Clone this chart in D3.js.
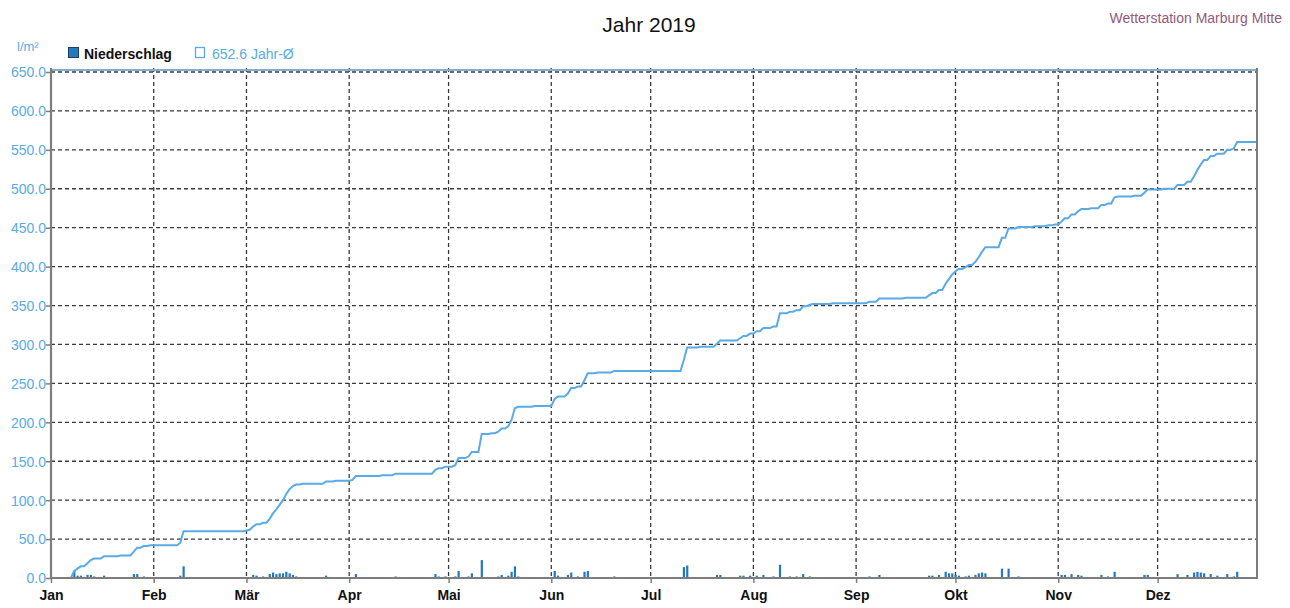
<!DOCTYPE html>
<html><head><meta charset="utf-8">
<script src="https://cdn.jsdelivr.net/npm/d3@7"></script>
<style>
html,body{margin:0;padding:0;background:#fff;}
svg{display:block;font-family:"Liberation Sans",Arial,sans-serif;}
</style></head>
<body>
<svg id="chart" width="1290" height="608"></svg>
<script>
// ---- data ----
const title = "Jahr 2019";
const stationName = "Wetterstation Marburg Mitte";
const unitLabel = "l/m²";
const seriesBarName = "Niederschlag";
const yearAverage = 652.6;
const averageLabel = "652.6 Jahr-Ø";
const monthLabels = ["Jan","Feb","Mär","Apr","Mai","Jun","Jul","Aug","Sep","Okt","Nov","Dez"];
const yTicks = [0,50,100,150,200,250,300,350,400,450,500,550,600,650];
// day of year (0 = 1 Jan) and daily precipitation in l/m²
const rainDay = [7,8,9,11,12,13,16,21,25,26,28,30,
  39,40,
  59,60,61,62,64,66,67,68,69,70,71,72,73,74,76,83,86,
  91,92,100,104,116,117,119,
  122,123,126,127,130,133,135,136,138,139,140,141,146,
  152,153,156,157,159,161,162,165,170,
  191,192,196,201,202,208,209,211,
  213,215,218,220,223,225,227,229,230,236,
  247,250,258,
  265,266,268,270,271,272,273,274,276,277,279,280,281,282,287,289,292,297,301,303,
  305,306,308,310,311,314,317,319,321,322,327,330,331,
  336,340,343,345,346,347,348,350,352,355,357,358];
const rainMm = [9,3,3,4,4,2,3,1,5,5,2,1,
  3,15,
  1,1,4,3,2,5,7,5,6,6,8,6,4,2,1,3,1,
  1,5,1,2,5,2,2,
  2,9,2,6,23,1,2,4,3,8,15,2,1,
  9,3,4,7,2,8,9,1,2,
  14,16,1,4,4,3,3,3,
  3,4,2,17,2,2,5,2,1,1,
  2,4,1,
  3,3,4,8,6,6,4,3,2,3,4,6,7,6,12,12,2,1,1,1,
  4,4,5,4,3,1,4,2,8,1,1,4,4,
  1,5,4,7,8,7,6,5,3,5,2,8];

// ---- layout ----
const svg = d3.select("#chart");
const pLeft = 51, pRight = 1257, pTop = 68, pBottom = 578;
const start = new Date(2019,0,1), end = new Date(2019,11,31);
const x = d3.scaleTime().domain([start,end]).range([pLeft,pRight]);
const y = d3.scaleLinear().domain([0,650]).range([pBottom,72]);
const dayDate = d => d3.timeDay.offset(start, d);

// daily series and cumulative sum
const nDays = d3.timeDay.count(start,end)+1;
const daily = new Array(nDays).fill(0);
rainDay.forEach((d,i)=>{ daily[d] += rainMm[i]; });
const cum = d3.cumsum(daily);
const cumData = Array.from(cum, (v,i)=>({date:dayDate(i), v}));
const bars = rainDay.map((d,i)=>({date:dayDate(d), v:rainMm[i]}));

const blue = "#5aaae6", barBlue = "#2478bf", gridCol = "#3a3a3a", axisCol = "#7d7d7d";

// grid
const months = d3.range(12).map(m=>new Date(2019,m,1));
svg.append("g").selectAll("line").data(yTicks.filter(t=>t>0)).join("line")
  .attr("x1",pLeft).attr("x2",pRight).attr("y1",d=>y(d)).attr("y2",d=>y(d))
  .attr("stroke",gridCol).attr("stroke-width",1.3).attr("stroke-dasharray","4,3");
svg.append("g").selectAll("line").data(months.slice(1)).join("line")
  .attr("x1",d=>x(d)).attr("x2",d=>x(d)).attr("y1",pTop).attr("y2",pBottom)
  .attr("stroke",gridCol).attr("stroke-width",1.3).attr("stroke-dasharray","4,3");

// average line (top)
svg.append("line").attr("x1",pLeft).attr("x2",pRight)
  .attr("y1",y(yearAverage)).attr("y2",y(yearAverage))
  .attr("stroke","#7fb0cc").attr("stroke-width",2);

// bars
svg.append("g").selectAll("rect").data(bars).join("rect")
  .attr("x",d=>x(d.date)-1).attr("width",2.2)
  .attr("y",d=>y(d.v)).attr("height",d=>pBottom-y(d.v))
  .attr("fill",barBlue);

// cumulative line
svg.append("path").datum(cumData)
  .attr("fill","none").attr("stroke",blue).attr("stroke-width",2)
  .attr("d", d3.line().x(d=>x(d.date)).y(d=>y(d.v)));

// frame
svg.append("line").attr("x1",pRight).attr("x2",pRight).attr("y1",pTop).attr("y2",pBottom)
  .attr("stroke",axisCol).attr("stroke-width",2);

// y axis
const yAxis = svg.append("g").attr("transform",`translate(${pLeft},0)`)
  .call(d3.axisLeft(y).tickValues(yTicks).tickFormat(d3.format(".1f")).tickSize(5).tickSizeOuter(0));
yAxis.select(".domain").attr("stroke",axisCol).attr("stroke-width",2.2)
  .attr("d",`M0,${pTop}V${pBottom+1}`);
yAxis.selectAll(".tick line").attr("stroke",axisCol).attr("stroke-width",1.5);
yAxis.selectAll(".tick text").attr("fill",blue).attr("font-size",14)
  .attr("font-family","'Liberation Sans',Arial,sans-serif").attr("x",-5).attr("dy","0.35em");

// x axis
const xAxis = svg.append("g").attr("transform",`translate(0,${pBottom})`)
  .call(d3.axisBottom(x).tickValues(months).tickFormat((d,i)=>monthLabels[i]).tickSize(5).tickSizeOuter(0));
xAxis.select(".domain").attr("stroke",axisCol).attr("stroke-width",2.2)
  .attr("d",`M${pLeft-1},0H${pRight+1}`);
xAxis.selectAll(".tick line").attr("stroke",axisCol).attr("stroke-width",1.5);
xAxis.selectAll(".tick text").attr("fill","#111").attr("font-size",14).attr("font-weight","bold")
  .attr("font-family","'Liberation Sans',Arial,sans-serif").attr("y",12);

// titles
svg.append("text").attr("x",649).attr("y",32).attr("text-anchor","middle")
  .attr("font-size",21).attr("fill","#111").text(title);
svg.append("text").attr("x",1282).attr("y",23).attr("text-anchor","end")
  .attr("font-size",14).attr("fill","#94587d").text(stationName);
svg.append("text").attr("x",17).attr("y",51)
  .attr("font-size",13).attr("fill",blue).text(unitLabel);

// legend
svg.append("rect").attr("x",68.5).attr("y",47.5).attr("width",10).attr("height",10)
  .attr("fill",barBlue).attr("stroke","#1a3f66").attr("stroke-width",1);
svg.append("text").attr("x",84).attr("y",58.5).attr("font-size",14).attr("font-weight","bold")
  .attr("fill","#111").text(seriesBarName);
svg.append("rect").attr("x",195.5).attr("y",47.5).attr("width",9).attr("height",10)
  .attr("fill","none").attr("stroke",blue).attr("stroke-width",1.3);
svg.append("text").attr("x",212).attr("y",58.5).attr("font-size",14)
  .attr("fill",blue).text(averageLabel);
</script>
</body></html>
